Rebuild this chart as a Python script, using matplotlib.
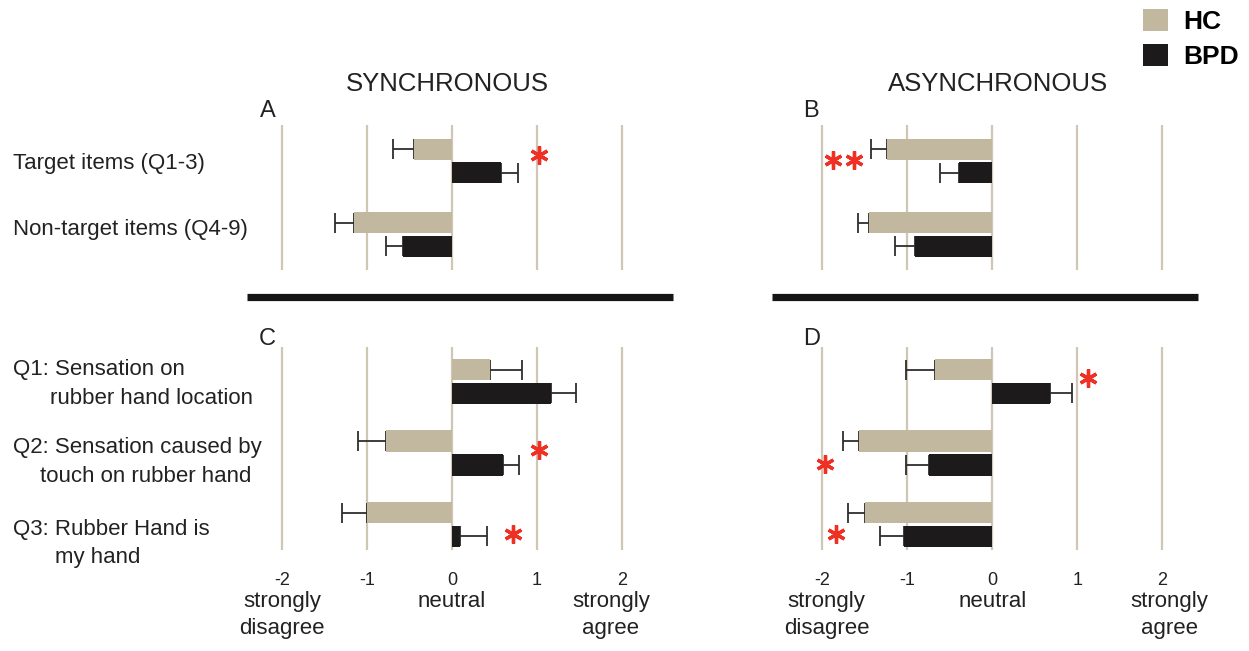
import matplotlib
matplotlib.use("Agg")
import matplotlib.pyplot as plt
import numpy as np
from matplotlib.lines import Line2D
from matplotlib.transforms import blended_transform_factory

plt.rcParams["font.family"] = ["Liberation Sans", "DejaVu Sans"]

W, H = 1249, 651

# mean agreement ratings (-3..3 scale) and SEM, per group
summary_rows = ["Target items (Q1-3)", "Non-target items (Q4-9)"]
item_rows = [("Q1: Sensation on", "rubber hand location"),
             ("Q2: Sensation caused by", "touch on rubber hand"),
             ("Q3: Rubber Hand is", "my hand")]

sync_summary_hc = [-0.45, -1.15]
sync_summary_hc_err = [0.24, 0.23]
sync_summary_bpd = [0.58, -0.58]
sync_summary_bpd_err = [0.20, 0.20]

async_summary_hc = [-1.24, -1.45]
async_summary_hc_err = [0.19, 0.13]
async_summary_bpd = [-0.39, -0.91]
async_summary_bpd_err = [0.23, 0.24]

sync_items_hc = [0.45, -0.78, -1.00]
sync_items_hc_err = [0.37, 0.33, 0.30]
sync_items_bpd = [1.16, 0.60, 0.09]
sync_items_bpd_err = [0.30, 0.19, 0.32]

async_items_hc = [-0.68, -1.57, -1.50]
async_items_hc_err = [0.34, 0.19, 0.20]
async_items_bpd = [0.68, -0.74, -1.04]
async_items_bpd_err = [0.26, 0.28, 0.28]

# significance asterisks (x, row)
stars_a = [(1.02, -0.08)]
stars_b = [(-1.87, -0.01), (-1.63, -0.01)]
stars_c = [(1.02, 0.965), (0.72, 2.13)]
stars_d = [(1.13, -0.045), (-1.97, 1.15), (-1.84, 2.13)]

scale_ticks = [-2, -1, 0, 1, 2]
scale_words = {-2: ["strongly", "disagree"], 0: ["neutral"], 2: ["strongly", "agree"]}

HC_COLOR = "#c2b79f"
BPD_COLOR = "#1c1a1a"
GRID = "#cfc6b4"
ERR = "#2e2e2e"
STAR = "#ee3124"

fig = plt.figure(figsize=(W / 100, H / 100), dpi=100)


def add_px_axes(left, top, right, bottom):
    return fig.add_axes([left / W, 1 - bottom / H, (right - left) / W, (bottom - top) / H])


def fig_text(x, y, s, **kw):
    return fig.text(x / W, 1 - y / H, s, **kw)


def panel(ax, hc, hc_err, bpd, bpd_err, h, off, ylim, stars):
    y = np.arange(len(hc))
    for x in scale_ticks:
        ax.axvline(x, color=GRID, lw=1.6, zorder=0)
    b1 = ax.barh(y - off, hc, height=h, color=HC_COLOR, zorder=3)
    b2 = ax.barh(y + off, bpd, height=h, color=BPD_COLOR, zorder=3)
    for vals, errs, yy in ((hc, hc_err, y - off), (bpd, bpd_err, y + off)):
        lo = [e if v < 0 else 0 for v, e in zip(vals, errs)]
        hi = [0 if v < 0 else e for v, e in zip(vals, errs)]
        ax.errorbar(vals, yy, xerr=[lo, hi], fmt="none", ecolor=ERR,
                    elinewidth=1.3, capsize=7, capthick=1.3, zorder=2)
    sx, sy = zip(*stars)
    ax.plot(sx, sy, ls="none", marker=(6, 2, 0), ms=13, mew=2.4,
            color=STAR, zorder=4)
    ax.set_xlim(-2.5, 2.5)
    ax.set_ylim(*ylim)
    ax.axis("off")
    return b1, b2


ax_a = add_px_axes(239.5, 125, 664.5, 270)
ax_b = add_px_axes(779.8, 125, 1204.8, 270)
ax_c = add_px_axes(239.5, 346.7, 664.5, 550)
ax_d = add_px_axes(779.8, 346.7, 1204.8, 550)

top_ylim = (1.483, -0.49)
bot_ylim = (2.357, -0.487)
hc_bar, bpd_bar = panel(ax_a, sync_summary_hc, sync_summary_hc_err, sync_summary_bpd,
                        sync_summary_bpd_err, 0.29, 0.16, top_ylim, stars_a)
panel(ax_b, async_summary_hc, async_summary_hc_err, async_summary_bpd,
      async_summary_bpd_err, 0.29, 0.16, top_ylim, stars_b)
panel(ax_c, sync_items_hc, sync_items_hc_err, sync_items_bpd,
      sync_items_bpd_err, 0.30, 0.165, bot_ylim, stars_c)
panel(ax_d, async_items_hc, async_items_hc_err, async_items_bpd,
      async_items_bpd_err, 0.30, 0.165, bot_ylim, stars_d)

# x scale labels under the lower panels
for ax, shift in ((ax_c, {-2: 0.0, 2: -0.13}), (ax_d, {-2: 0.05, 2: 0.08})):
    tr = blended_transform_factory(ax.transData, fig.transFigure)
    for t in scale_ticks:
        ax.text(t, 1 - 585 / H, f"{t}", transform=tr, ha="center", va="baseline",
                fontsize=13, color="#222222")
    for t, words in scale_words.items():
        for i, w in enumerate(words):
            ax.text(t + shift.get(t, 0), 1 - (607.3 + 27 * i) / H, w, transform=tr,
                    ha="center", va="baseline", fontsize=16, color="#222222")

# row labels
label_kw = dict(ha="left", va="baseline", fontsize=16, color="#222222")
fig_text(12.7, 169.3, summary_rows[0], **label_kw)
fig_text(12.7, 235, summary_rows[1], fontstretch="normal", **label_kw)
for (first, second), y0, x2 in zip(item_rows, (375, 453.3, 535), (50, 40, 55)):
    fig_text(12.7, y0, first, **label_kw)
    fig_text(x2, y0 + 28.5, second, **label_kw)

# condition titles and panel letters
fig_text(447.5, 90.7, "SYNCHRONOUS", ha="center", va="baseline", fontsize=18.5, color="#222222")
fig_text(998, 90.7, "ASYNCHRONOUS", ha="center", va="baseline", fontsize=18.5, color="#222222")
for letter, x, y in (("A", 260, 116.7), ("B", 803, 117), ("C", 259, 345), ("D", 803, 345)):
    fig_text(x, y, letter, ha="left", va="baseline", fontsize=17, color="#222222")

# heavy separators between summary and item panels
for x0, x1 in ((247, 673), (771.7, 1197.7)):
    fig.add_artist(Line2D([x0 / W, x1 / W], [1 - 296.5 / H] * 2, lw=5.2,
                          color="#151515", solid_capstyle="butt"))

fig.legend([hc_bar, bpd_bar], ["HC", "BPD"], loc="upper left",
           bbox_to_anchor=(1142.7 / W, 1 - 9 / H), frameon=False,
           prop=dict(weight="bold", size=19), handlelength=0.97, handleheight=0.9,
           handletextpad=0.55, labelspacing=0.38, borderpad=0, borderaxespad=0)

fig.savefig("out.png", dpi=100, facecolor="white")
